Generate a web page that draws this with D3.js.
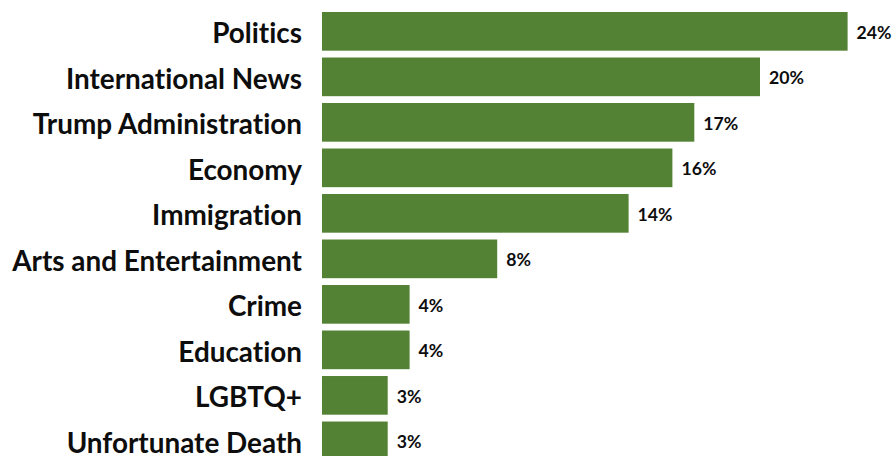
<!DOCTYPE html>
<html>
<head>
<meta charset="utf-8">
<script src="https://cdn.jsdelivr.net/npm/d3@7"></script>
<style>
  html, body { margin: 0; padding: 0; background: #ffffff; }
  svg { display: block; }
  text { font-variant-ligatures: none; font-feature-settings: "liga" 0, "clig" 0; }
</style>
</head>
<body>
<div id="chart"></div>
<script>
const categories = ["Politics", "International News", "Trump Administration", "Economy", "Immigration",
  "Arts and Entertainment", "Crime", "Education", "LGBTQ+", "Unfortunate Death"];
const values = [24, 20, 17, 16, 14, 8, 4, 4, 3, 3];
const valueLabels = ["24%", "20%", "17%", "16%", "14%", "8%", "4%", "4%", "3%", "3%"];

const W = 895, H = 456;
const svg = d3.select("#chart").append("svg").attr("width", W).attr("height", H);

const x = d3.scaleLinear().domain([0, 24]).range([322, 847.6]);
const y = d3.scaleBand().domain(categories).range([12, 460.2]).paddingInner(0.15).paddingOuter(0);

const FONT = "Lato, 'Open Sans', sans-serif";

function fitSize(text, target, base) {
  const t = svg.append("text").attr("font-family", FONT).attr("font-weight", 700)
    .attr("font-size", base).text(text);
  const w = t.node().getComputedTextLength();
  t.remove();
  return base * target / w;
}
const catSize = fitSize("Arts and Entertainment", 290, 20);
const valSize = fitSize("24%", 35, 16);

svg.append("g").selectAll("rect").data(categories).join("rect")
  .attr("x", x(0))
  .attr("y", d => y(d))
  .attr("width", (d, i) => x(values[i]) - x(0))
  .attr("height", y.bandwidth())
  .attr("fill", "#548235");

svg.append("g").selectAll("text").data(categories).join("text")
  .attr("x", 302)
  .attr("y", d => y(d) + y.bandwidth() / 2 + catSize * 0.42)
  .attr("text-anchor", "end")
  .attr("font-family", FONT)
  .attr("font-weight", 700)
  .attr("font-size", catSize)
  .attr("fill", "#0d0d0d")
  .text(d => d);

svg.append("g").selectAll("text").data(categories).join("text")
  .attr("x", (d, i) => x(values[i]) + 9)
  .attr("y", d => y(d) + y.bandwidth() / 2 + valSize * 0.42)
  .attr("font-family", FONT)
  .attr("font-weight", 700)
  .attr("font-size", valSize)
  .attr("fill", "#0d0d0d")
  .text((d, i) => valueLabels[i]);
</script>
</body>
</html>
